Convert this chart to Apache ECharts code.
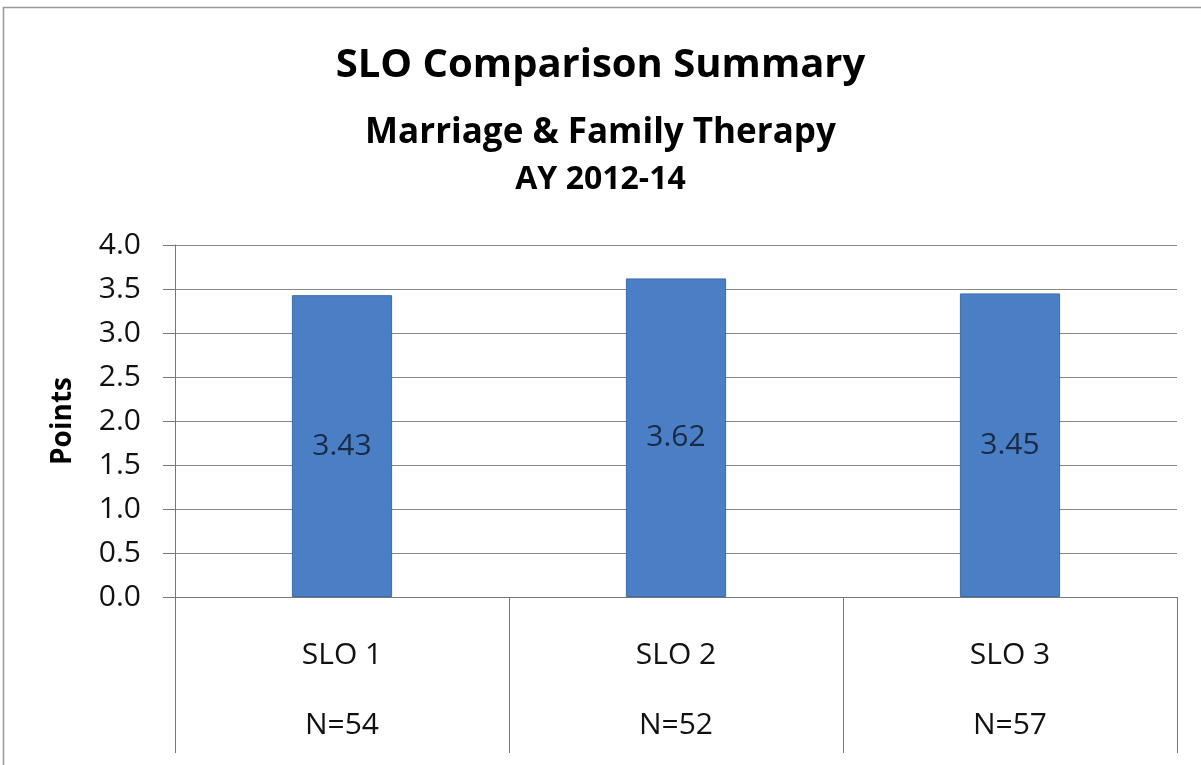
<!DOCTYPE html>
<html>
<head>
<meta charset="utf-8">
<title>SLO Comparison Summary</title>
<script src="https://cdn.jsdelivr.net/npm/echarts@6/dist/echarts.min.js"></script>
<style>
  html, body { margin: 0; padding: 0; background: #fff; }
  #chart { width: 1201px; height: 765px; }
</style>
</head>
<body>
<div id="chart"></div>
<script>
// chart data
const categories = ['SLO 1', 'SLO 2', 'SLO 3']
const sampleSizes = ['N=54', 'N=52', 'N=57']
const scores = [3.43, 3.62, 3.45]
const yTicks = [0, 0.5, 1, 1.5, 2, 2.5, 3, 3.5, 4]

const font = '"Open Sans", "DejaVu Sans", sans-serif'

const chart = echarts.init(document.getElementById('chart'))

const option = {
  backgroundColor: '#fff',
  animation: false,
  title: [
    {
      text: 'SLO Comparison Summary',
      left: 'center',
      top: 41,
      textStyle: { fontFamily: font, fontSize: 40, fontWeight: 'bold', color: '#000' }
    },
    {
      text: 'Marriage & Family Therapy',
      left: 'center',
      top: 111,
      textStyle: { fontFamily: font, fontSize: 35, fontWeight: 'bold', color: '#000' }
    },
    {
      text: 'AY 2012-14',
      left: 'center',
      top: 159,
      textStyle: { fontFamily: font, fontSize: 32, fontWeight: 'bold', color: '#000' }
    }
  ],
  // outer frame
  graphic: [
    {
      type: 'rect',
      shape: { x: 3.5, y: 7.5, width: 1210, height: 770 },
      style: { fill: 'none', stroke: '#999', lineWidth: 1.5 },
      silent: true
    }
  ],
  grid: {
    left: 175,
    right: 24,
    top: 245,
    bottom: 168,
    outerBoundsMode: 'none'
  },
  xAxis: {
    type: 'category',
    data: categories.map((c, i) => c + '\n' + sampleSizes[i]),
    axisLine: { lineStyle: { color: '#777', width: 1 } },
    axisTick: {
      show: true,
      interval: 0,
      length: 156,
      lineStyle: { color: '#777', width: 1 }
    },
    axisLabel: {
      interval: 0,
      margin: 23,
      fontFamily: font,
      fontSize: 30,
      color: '#111',
      lineHeight: 70
    }
  },
  yAxis: {
    type: 'value',
    min: 0,
    max: 4,
    interval: 0.5,
    name: 'Points',
    nameLocation: 'middle',
    nameGap: 98,
    nameRotate: 90,
    nameTextStyle: { fontFamily: font, fontSize: 28, fontWeight: 'bold', color: '#000' },
    axisLine: { show: true, lineStyle: { color: '#777', width: 1 } },
    axisTick: { show: true, length: 12, lineStyle: { color: '#777' } },
    axisLabel: {
      margin: 34,
      fontFamily: font,
      fontSize: 30,
      color: '#111',
      formatter: v => (yTicks.includes(v) ? v.toFixed(1) : '')
    },
    splitLine: { show: true, lineStyle: { color: '#888', width: 1 } }
  },
  series: [
    {
      type: 'bar',
      data: scores,
      barWidth: '30%',
      itemStyle: { color: '#4a7fc5', borderColor: '#3d6cab', borderWidth: 1 },
      label: {
        show: true,
        position: 'inside',
        fontFamily: font,
        fontSize: 30,
        color: '#1a2a44',
        formatter: p => p.value.toFixed(2)
      }
    }
  ]
}

chart.setOption(option)
</script>
</body>
</html>
